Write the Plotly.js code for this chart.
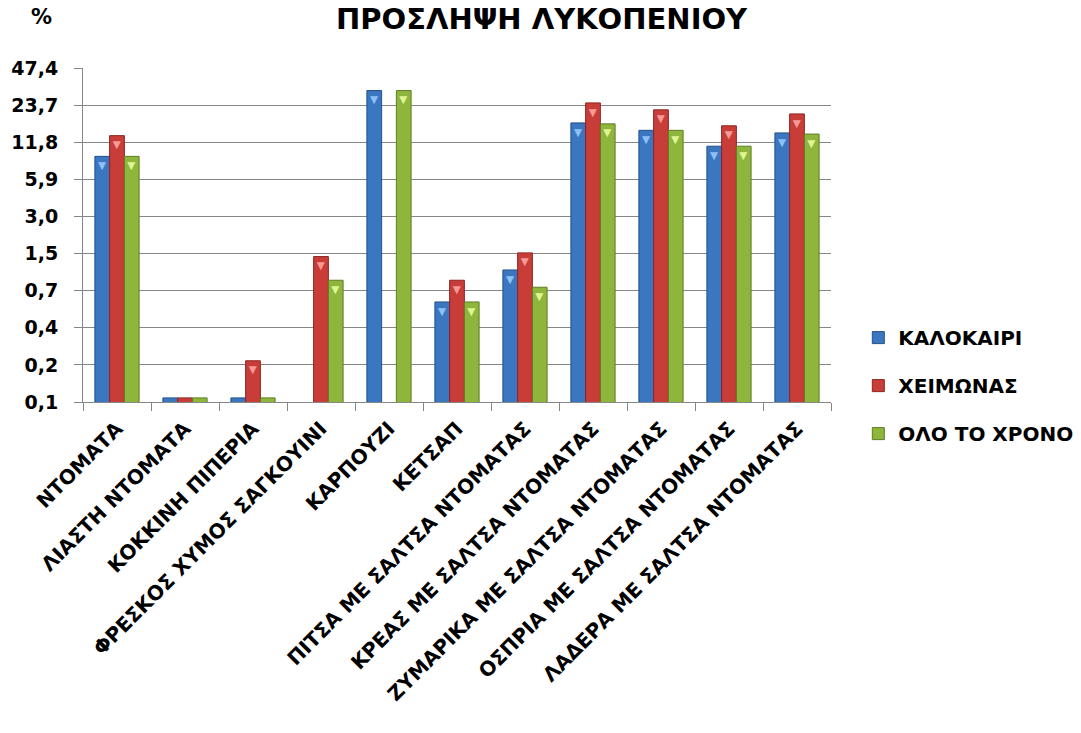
<!DOCTYPE html>
<html>
<head>
<meta charset="utf-8">
<script src="https://cdn.plot.ly/plotly-3.0.1.min.js"></script>
<style>
  html, body { margin: 0; padding: 0; background: #ffffff; }
  #chart { width: 1081px; height: 733px; }
</style>
</head>
<body>
<div id="chart"></div>
<script>
// Lycopene intake by food and season (%), log-2 scaled axis
const categories = [
  'ΝΤΟΜΑΤΑ',
  'ΛΙΑΣΤΗ ΝΤΟΜΑΤΑ',
  'ΚΟΚΚΙΝΗ ΠΙΠΕΡΙΑ',
  'ΦΡΕΣΚΟΣ ΧΥΜΟΣ ΣΑΓΚΟΥΙΝΙ',
  'ΚΑΡΠΟΥΖΙ',
  'ΚΕΤΣΑΠ',
  'ΠΙΤΣΑ ΜΕ ΣΑΛΤΣΑ ΝΤΟΜΑΤΑΣ',
  'ΚΡΕΑΣ ΜΕ ΣΑΛΤΣΑ ΝΤΟΜΑΤΑΣ',
  'ΖΥΜΑΡΙΚΑ ΜΕ ΣΑΛΤΣΑ ΝΤΟΜΑΤΑΣ',
  'ΟΣΠΡΙΑ ΜΕ ΣΑΛΤΣΑ ΝΤΟΜΑΤΑΣ',
  'ΛΑΔΕΡΑ ΜΕ ΣΑΛΤΣΑ ΝΤΟΜΑΤΑΣ'
];

const summer = [9.1, 0.1, 0.1, null, 31.1, 0.6, 1.09, 17.0, 14.8, 11.0, 14.1];
const winter = [13.4, 0.1, 0.2, 1.4, null, 0.9, 1.5, 24.7, 21.7, 16.1, 20.1];
const wholeYear = [9.1, 0.1, 0.1, 0.9, 31.1, 0.6, 0.79, 16.7, 14.8, 11.0, 13.8];

const seriesNames = ['ΚΑΛΟΚΑΙΡΙ', 'ΧΕΙΜΩΝΑΣ', 'ΟΛΟ ΤΟ ΧΡΟΝΟ'];

// Axis ticks: successive halvings of the top value
const tickValues = [0.0926, 0.185, 0.37, 0.74, 1.48, 2.96, 5.93, 11.85, 23.7, 47.4];
const tickLabels = ['0,1', '0,2', '0,4', '0,7', '1,5', '3,0', '5,9', '11,8', '23,7', '47,4'];

const FONT = 'DejaVu Sans, Liberation Sans, sans-serif';

const styles = [
  { fill: '#3b76c1', edge: '#24508a', bevel: '#8fc0f5' },
  { fill: '#c93d39', edge: '#8c2421', bevel: '#f59a98' },
  { fill: '#8eb63d', edge: '#5f7d22', bevel: '#dff595' }
];

const seriesData = [summer, winter, wholeYear];

const traces = seriesData.map((vals, i) => ({
  type: 'bar',
  name: seriesNames[i],
  legendgroup: 'g' + i,
  x: categories,
  y: vals,
  text: vals.map(v => (v == null ? '' : '▼')),
  textposition: 'inside',
  insidetextanchor: 'end',
  textangle: 0,
  textfont: { color: styles[i].bevel, size: 12, family: FONT },
  hoverinfo: 'x+y+name',
  marker: {
    color: styles[i].fill,
    line: { color: styles[i].edge, width: 1 }
  }
}));

const layout = {
  width: 1081,
  height: 733,
  paper_bgcolor: '#ffffff',
  plot_bgcolor: '#ffffff',
  margin: { l: 83, r: 250, t: 68, b: 331, pad: 0 },
  barmode: 'group',
  bargap: 0.35,
  bargroupgap: 0,
  uniformtext: { mode: 'hide', minsize: 9 },
  font: { family: FONT, color: '#000000' },
  xaxis: {
    type: 'category',
    tickangle: -45,
    ticks: 'outside',
    tickson: 'boundaries',
    ticklen: 8,
    tickcolor: '#868686',
    ticklabelstandoff: 6,
    showline: true,
    linecolor: '#868686',
    linewidth: 1,
    showgrid: false,
    tickfont: { family: FONT, size: 20, color: '#000000', weight: 'bold' }
  },
  yaxis: {
    type: 'log',
    range: [Math.log10(0.0926), Math.log10(47.4)],
    tickmode: 'array',
    tickvals: tickValues,
    ticktext: tickLabels,
    ticks: 'outside',
    ticklen: 8,
    tickcolor: '#868686',
    ticklabelstandoff: 12,
    showline: true,
    linecolor: '#868686',
    linewidth: 1,
    showgrid: true,
    gridcolor: '#868686',
    gridwidth: 1,
    zeroline: false,
    tickfont: { family: FONT, size: 19, color: '#000000', weight: 'bold' }
  },
  legend: {
    xref: 'container', yref: 'container',
    x: 0.794, xanchor: 'left',
    y: 0.566, yanchor: 'top',
    font: { family: FONT, size: 20, color: '#000000', weight: 'bold' },
    tracegroupgap: 19,
    bgcolor: 'rgba(0,0,0,0)'
  },
  annotations: [
    {
      // chart title at the top edge of the page
      text: '<b>ΠΡΟΣΛΗΨΗ ΛΥΚΟΠΕΝΙΟΥ</b>',
      xref: 'paper', yref: 'paper',
      x: 0.613, y: 1.1482,
      xanchor: 'center', yanchor: 'middle',
      showarrow: false,
      font: { family: FONT, size: 29, color: '#000000' }
    },
    {
      text: '<b>%</b>',
      xref: 'paper', yref: 'paper',
      x: -0.055, y: 1.153,
      xanchor: 'center', yanchor: 'middle',
      showarrow: false,
      font: { family: FONT, size: 21, color: '#000000' }
    }
  ]
};

Plotly.newPlot('chart', traces, layout, { displayModeBar: false, staticPlot: true });
</script>
</body>
</html>
